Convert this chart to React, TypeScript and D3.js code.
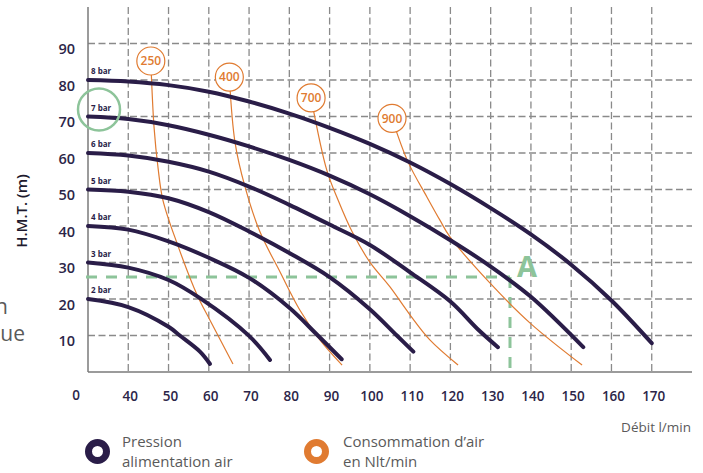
import React from "react";
import * as d3 from "d3";

// Axis ticks
const FLOW_TICKS = [40, 50, 60, 70, 80, 90, 100, 110, 120, 130, 140, 150, 160, 170];
const HEAD_TICKS = [10, 20, 30, 40, 50, 60, 70, 80, 90];

// Pump curves: flow (l/min) vs head (m) for each supply air pressure
const PRESSURE_LABELS = ["2 bar", "3 bar", "4 bar", "5 bar", "6 bar", "7 bar", "8 bar"];
const BAR_2: [number, number][] = [[30, 20], [40, 17.8], [50, 12.4], [52.8, 10], [57.8, 5.6], [60.3, 2.2]];
const BAR_3: [number, number][] = [[30, 30], [40, 28.6], [50, 25.2], [58, 20.1], [70, 9.9], [75.2, 3.3]];
const BAR_4: [number, number][] = [[30, 40], [40, 39], [50, 35.8], [60, 31.3], [70, 25.8], [80, 17.6], [86.9, 10.2], [93, 3.5]];
const BAR_5: [number, number][] = [[30, 50], [40, 49.4], [50, 47.6], [60, 43.8], [70, 38.5], [80, 32.6], [90, 26], [100, 17.2], [106.7, 10], [110.8, 5.6]];
const BAR_6: [number, number][] = [[30, 60], [40, 59.3], [50, 57.6], [60, 54.9], [70, 50.8], [80, 45.8], [90, 40.4], [100, 34.8], [110, 27.3], [120, 19.3], [127, 11.5], [131.8, 6.8]];
const BAR_7: [number, number][] = [[30, 70], [40, 69.3], [50, 67.6], [60, 65], [70, 61.8], [80, 58.1], [90, 53.8], [100, 48.7], [110, 42.7], [120, 36.1], [130, 28.9], [140, 20.6], [153, 6.8]];
const BAR_8: [number, number][] = [[30, 80], [40, 79.6], [50, 78.6], [60, 76.8], [70, 74.1], [80, 70.8], [90, 66.9], [100, 62.5], [110, 57.4], [120, 51.5], [130, 44.9], [140, 37.7], [150, 29.4], [160, 19.6], [170, 7.9]];
const PRESSURE_CURVES = [BAR_2, BAR_3, BAR_4, BAR_5, BAR_6, BAR_7, BAR_8];

// Air consumption iso-lines (Nl/min); first point is where the value badge sits
const AIR_LABELS = ["250", "400", "700", "900"];
const AIR_250: [number, number][] = [[45.6, 85.2], [46.4, 67.1], [47.4, 55.9], [48.6, 47.1], [52.1, 35.3], [57.1, 21.1], [60.3, 14.2], [66, 2.2]];
const AIR_400: [number, number][] = [[65.1, 80.8], [66.5, 63], [69, 50.7], [72.7, 38.4], [77.7, 27.4], [82.6, 17], [87.6, 8.8], [93.1, 1.9]];
const AIR_700: [number, number][] = [[85.4, 75.1], [89.3, 55.3], [92.1, 47.1], [95.6, 38.4], [100, 30.1], [105, 23.3], [110, 15.6], [114.9, 8.8], [121.9, 1.9]];
const AIR_900: [number, number][] = [[105.5, 69.5], [109.5, 57.5], [114.2, 47.9], [117.4, 41.6], [119.9, 37], [129.8, 24.4], [139.8, 13.4], [152.7, 1.9]];
const AIR_CURVES = [AIR_250, AIR_400, AIR_700, AIR_900];

// Operating point A
const POINT_A: [number, number] = [134.8, 26];

const NAVY = "#2a1d48";
const ORANGE = "#e07b31";
const GREEN = "#8dc49a";
const GRID = "#8a8a8a";
const TEXT_GRAY = "#5a5a5a";
const TICK_COLOR = "#2c2548";
const FONT = "'Open Sans', 'DejaVu Sans', sans-serif";

export default function App() {
  const width = 703;
  const height = 473;
  const x = d3.scaleLinear().domain([30, 180]).range([88, 692]);
  const y = d3.scaleLinear().domain([0, 100]).range([372, 7]);

  const line = d3
    .line<[number, number]>()
    .x((d) => x(d[0]))
    .y((d) => y(d[1]))
    .curve(d3.curveCatmullRom.alpha(0.5));

  const [ax, ay] = POINT_A;

  return (
    <svg
      width={width}
      height={height}
      style={{ position: "absolute", left: 0, top: 0, background: "#fff" }}
      fontFamily={FONT}
    >
      {/* grid */}
      <g stroke={GRID} strokeWidth={1.3} strokeDasharray="7 3.5">
        {FLOW_TICKS.map((t) => (
          <line key={"v" + t} x1={x(t)} x2={x(t)} y1={y(100)} y2={y(0)} />
        ))}
        {HEAD_TICKS.map((t) => (
          <line key={"h" + t} x1={x(30)} x2={x(180)} y1={y(t)} y2={y(t)} />
        ))}
      </g>

      {/* axes */}
      <line x1={x(30)} x2={x(30)} y1={y(100)} y2={y(0)} stroke="#7a7a7a" strokeWidth={1.5} />
      <line x1={x(30)} x2={x(180)} y1={y(0)} y2={y(0)} stroke="#7a7a7a" strokeWidth={1.5} />

      {/* tick labels */}
      <g fill={TICK_COLOR} fontSize={14.5} fontWeight={600}>
        {HEAD_TICKS.map((t) => (
          <text key={"yl" + t} x={75} y={y(t) + 10.5} textAnchor="end">
            {t}
          </text>
        ))}
      </g>
      <g fill={TICK_COLOR} fontSize={13.5} fontWeight={600}>
        <text x={x(30) - 12} y={400} textAnchor="middle">0</text>
        {FLOW_TICKS.map((t) => (
          <text key={"xl" + t} x={x(t) + 2} y={401} textAnchor="middle">
            {t}
          </text>
        ))}
      </g>

      {/* axis titles */}
      <text
        transform={`translate(27, 211) rotate(-90)`}
        textAnchor="middle"
        fontSize={15}
        fontWeight={600}
        fill="#1e1a2e"
      >
        H.M.T. (m)
      </text>
      <text x={691} y={432} textAnchor="end" fontSize={13.5} fill={TEXT_GRAY}>
        Débit l/min
      </text>

      {/* side text */}
      <text x={8} y={314} textAnchor="end" fontSize={21} fill={TEXT_GRAY}>n</text>
      <text x={25} y={341} textAnchor="end" fontSize={21} fill={TEXT_GRAY}>ue</text>

      {/* operating point guides */}
      <g stroke={GREEN} strokeWidth={3} fill="none" strokeDasharray="11 9">
        <line x1={x(30) - 2} x2={x(ax)} y1={y(ay)} y2={y(ay)} />
        <line x1={x(ax)} x2={x(ax)} y1={y(ay)} y2={y(0)} />
      </g>

      {/* air consumption lines */}
      <g fill="none" stroke={ORANGE} strokeWidth={1.2}>
        {AIR_CURVES.map((c, i) => (
          <path key={"a" + i} d={line(c) ?? ""} />
        ))}
      </g>

      {/* pressure curves */}
      <g fill="none" stroke={NAVY} strokeWidth={4} strokeLinecap="round">
        {PRESSURE_CURVES.map((c, i) => (
          <path key={"p" + i} d={line(c) ?? ""} />
        ))}
      </g>

      {/* pressure labels */}
      <g fill={NAVY} fontSize={8} fontWeight={700}>
        {PRESSURE_CURVES.map((c, i) => (
          <text key={"pl" + i} x={x(c[0][0]) + 3} y={y(c[0][1]) - 6}>
            {PRESSURE_LABELS[i]}
          </text>
        ))}
      </g>

      {/* air consumption badges */}
      {AIR_CURVES.map((c, i) => (
        <g key={"b" + i} transform={`translate(${x(c[0][0])},${y(c[0][1])})`}>
          <circle r={14} fill="#fff" stroke={ORANGE} strokeWidth={1.2} />
          <text
            textAnchor="middle"
            dy="0.36em"
            fontSize={12}
            fontWeight={600}
            fill={ORANGE}
          >
            {AIR_LABELS[i]}
          </text>
        </g>
      ))}

      {/* highlight on 7 bar */}
      <circle cx={x(BAR_7[0][0]) + 11} cy={y(BAR_7[0][1]) - 7} r={21} fill="none" stroke={GREEN} strokeWidth={2.5} />

      {/* point A */}
      <text x={x(ax) + 17} y={y(ay)} textAnchor="middle" fontSize={29} fontWeight={700} fill={GREEN}>
        A
      </text>

      {/* legend */}
      <circle cx={97.5} cy={451.5} r={9} fill="none" stroke={NAVY} strokeWidth={7} />
      <text x={122} y={447} fontSize={15} fill={TEXT_GRAY}>
        <tspan x={122}>Pression</tspan>
        <tspan x={122} dy={20}>alimentation air</tspan>
      </text>
      <circle cx={316.5} cy={451.5} r={9} fill="none" stroke={ORANGE} strokeWidth={7} />
      <text x={343} y={447} fontSize={15} fill={TEXT_GRAY}>
        <tspan x={343}>Consommation d’air</tspan>
        <tspan x={343} dy={20}>en Nlt/min</tspan>
      </text>
    </svg>
  );
}
